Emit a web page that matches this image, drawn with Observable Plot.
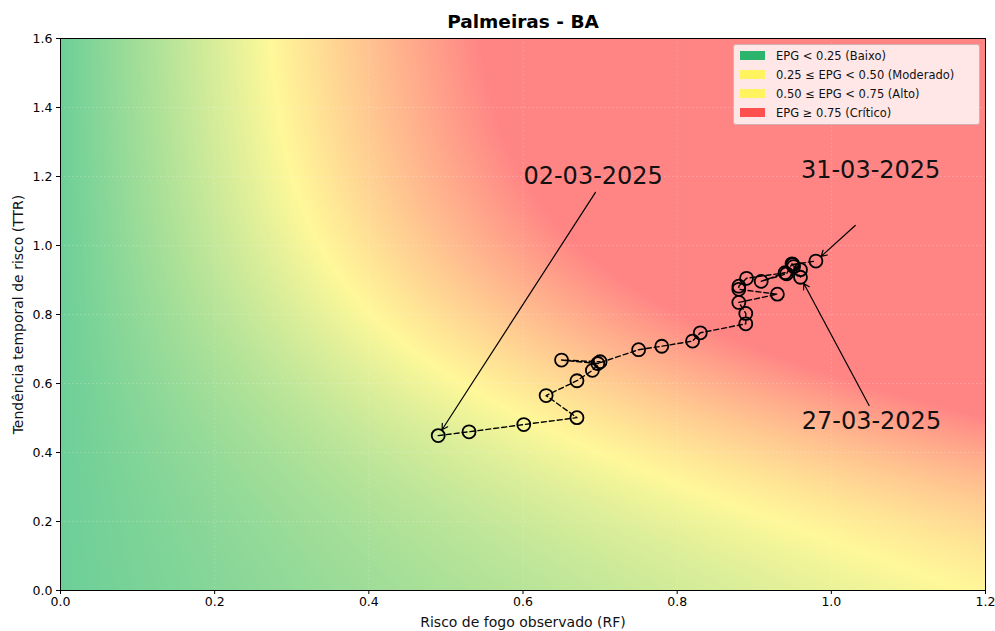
<!DOCTYPE html>
<html>
<head>
<meta charset="utf-8">
<script src="https://cdn.jsdelivr.net/npm/d3@7"></script>
<script src="https://cdn.jsdelivr.net/npm/@observablehq/plot@0.6"></script>
<style>
  html, body { margin: 0; padding: 0; background: white; }
  #wrap { position: relative; width: 995px; height: 631px; font-family: "DejaVu Sans", sans-serif; }
  #legend { position: absolute; left: 733px; top: 44px; width: 233px; padding: 1px 6px 2px 6px;
            background: rgba(255,255,255,0.8); border: 1px solid #d9b0b0; border-radius: 3px;
            font-family: "DejaVu Sans", sans-serif; font-size: 11.5px; color: #111; }
  .row { height: 19px; display: flex; align-items: center; white-space: nowrap; }
  .sw { width: 25px; height: 9px; margin-right: 11px; flex: none; }
</style>
</head>
<body>
<div id="wrap">
  <div id="chart"></div>
  <div id="legend"></div>
</div>
<script>
// ---- data ----
const dates = ["02-03-2025","03-03-2025","04-03-2025","05-03-2025","06-03-2025","07-03-2025","08-03-2025","09-03-2025","10-03-2025","11-03-2025",
               "12-03-2025","13-03-2025","14-03-2025","15-03-2025","16-03-2025","17-03-2025","18-03-2025","19-03-2025","20-03-2025","21-03-2025",
               "22-03-2025","23-03-2025","24-03-2025","25-03-2025","26-03-2025","27-03-2025","28-03-2025","29-03-2025","30-03-2025","31-03-2025"];
const rf  = [0.49, 0.53, 0.601, 0.67, 0.63, 0.67, 0.69, 0.70, 0.65, 0.697,
             0.75, 0.78, 0.82, 0.83, 0.889, 0.889, 0.88, 0.93, 0.88, 0.88,
             0.89, 0.94, 0.909, 0.942, 0.949, 0.96, 0.951, 0.96, 0.95, 0.98];
const ttr = [0.449, 0.46, 0.481, 0.501, 0.565, 0.608, 0.638, 0.663, 0.668, 0.658,
             0.698, 0.708, 0.723, 0.747, 0.773, 0.803, 0.835, 0.859, 0.873, 0.882,
             0.905, 0.921, 0.896, 0.918, 0.947, 0.908, 0.939, 0.93, 0.945, 0.955];

const annoIndex = [0, 29, 25];
const annoTextRF = [0.691, 1.051, 1.052];
const annoTextTTR = [1.20, 1.217, 0.49];
const annoTailRF = [0.694, 1.031, 1.049];
const annoTailTTR = [1.154, 1.058, 0.536];

const xTicks = [0, 0.2, 0.4, 0.6, 0.8, 1.0, 1.2];
const yTicks = [0, 0.2, 0.4, 0.6, 0.8, 1.0, 1.2, 1.4, 1.6];

const legendLabels = ["EPG < 0.25 (Baixo)", "0.25 ≤ EPG < 0.50 (Moderado)", "0.50 ≤ EPG < 0.75 (Alto)", "EPG ≥ 0.75 (Crítico)"];
const legendColors = ["#2bb56c", "#fff35e", "#fff35e", "#ff5050"];

// background EPG field parameters
const fieldStops = [0, 0.5, 1];
const fieldColors = ["#6dcf98", "#fff899", "#ff8585"];
const fieldA = 0.3, fieldB = 1.6, fieldK = 3.5, fieldC = 0.7;

// ---- build ----
const points = dates.map((d, i) => ({date: d, rf: rf[i], ttr: ttr[i]}));
const annos = annoIndex.map((k, j) => ({
  label: dates[k], px: rf[k], py: ttr[k],
  tx: annoTextRF[j], ty: annoTextTTR[j], ax: annoTailRF[j], ay: annoTailTTR[j]
}));

const font = "DejaVu Sans";
const chart = Plot.plot({
  width: 995, height: 631,
  marginTop: 38, marginBottom: 41, marginLeft: 60, marginRight: 10,
  style: {fontFamily: font, color: "black", background: "white"},
  x: {domain: [0, 1.2]},
  y: {domain: [0, 1.6]},
  color: {type: "linear", domain: fieldStops, range: fieldColors, clamp: true},
  marks: [
    Plot.raster({
      fill: (x, y) => x * (fieldA + fieldB / (1 + Math.exp(-fieldK * (y - fieldC)))),
      x1: 0, x2: 1.2, y1: 0, y2: 1.6, pixelSize: 1
    }),
    Plot.gridX(xTicks, {stroke: "#ffffff", strokeOpacity: 0.22, strokeDasharray: "1.5,2.5"}),
    Plot.gridY(yTicks, {stroke: "#ffffff", strokeOpacity: 0.22, strokeDasharray: "1.5,2.5"}),
    Plot.axisX({ticks: xTicks, tickFormat: d3.format(".1f"), tickSize: 4, tickPadding: 3, fontSize: 12.5, label: null}),
    Plot.axisY({ticks: yTicks, tickFormat: d3.format(".1f"), tickSize: 4, tickPadding: 4, fontSize: 12.5, label: null}),
    Plot.frame({stroke: "black", strokeWidth: 1}),
    Plot.line(points, {x: "rf", y: "ttr", stroke: "black", strokeWidth: 1.4, strokeDasharray: "5,3"}),
    Plot.dot(points, {x: "rf", y: "ttr", r: 6.5, stroke: "black", strokeWidth: 1.8, fill: "none"}),
    Plot.arrow(annos, {x1: "ax", y1: "ay", x2: "px", y2: "py", insetEnd: 7, headLength: 8, stroke: "black", strokeWidth: 1.2}),
    Plot.text(annos, {x: "tx", y: "ty", text: "label", fontSize: 24, fill: "#111", fontFamily: font}),
    Plot.text(["Palmeiras - BA"], {frameAnchor: "top", lineAnchor: "middle", dy: -16, fontSize: 18.5, fontWeight: "bold", fill: "black"}),
    Plot.text(["Risco de fogo observado (RF)"], {frameAnchor: "bottom", lineAnchor: "middle", dy: 32, fontSize: 14, fill: "#111"}),
    Plot.text(["Tendência temporal de risco (TTR)"], {frameAnchor: "left", textAnchor: "middle", lineAnchor: "middle", dx: -42, rotate: -90, fontSize: 14, fill: "#111"})
  ]
});
document.getElementById("chart").appendChild(chart);

const leg = document.getElementById("legend");
legendLabels.forEach((lab, i) => {
  const row = document.createElement("div");
  row.className = "row";
  const sw = document.createElement("span");
  sw.className = "sw";
  sw.style.background = legendColors[i];
  const t = document.createElement("span");
  t.textContent = lab;
  row.appendChild(sw); row.appendChild(t);
  leg.appendChild(row);
});
</script>
</body>
</html>
